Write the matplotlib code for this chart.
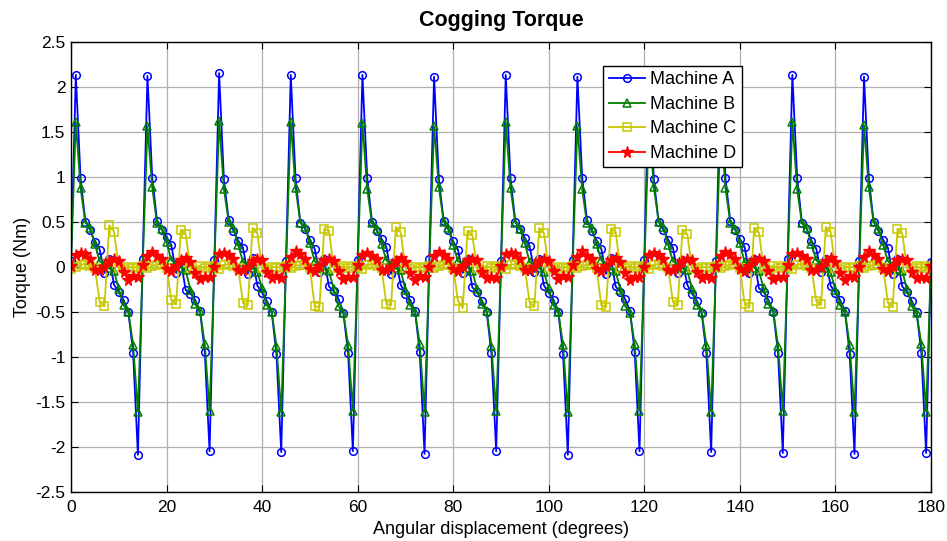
import matplotlib
matplotlib.use("Agg")
import matplotlib.pyplot as plt
from matplotlib.ticker import FuncFormatter

# Rotor angle in degrees, one sample per degree
angle = list(range(0, 181))

# Cogging torque (Nm), one row per 15-degree slot pitch
torque_a = [
    0.06, 2.13, 0.98, 0.50, 0.41, 0.27, 0.19, -0.07, 0.09, -0.20, -0.28, -0.37, -0.50, -0.96, -2.09,
    0.08, 2.12, 0.99, 0.51, 0.41, 0.33, 0.24, -0.07, 0.06, -0.26, -0.30, -0.37, -0.49, -0.95, -2.05,
    0.07, 2.15, 0.97, 0.52, 0.40, 0.29, 0.21, -0.08, 0.10, -0.21, -0.29, -0.38, -0.50, -0.97, -2.06,
    0.06, 2.13, 0.98, 0.49, 0.42, 0.30, 0.20, -0.06, 0.08, -0.22, -0.27, -0.36, -0.51, -0.96, -2.05,
    0.07, 2.13, 0.99, 0.50, 0.40, 0.31, 0.22, -0.08, 0.07, -0.20, -0.30, -0.37, -0.49, -0.95, -2.08,
    0.08, 2.11, 0.97, 0.51, 0.41, 0.28, 0.19, -0.07, 0.09, -0.23, -0.28, -0.38, -0.50, -0.96, -2.05,
    0.06, 2.13, 0.98, 0.50, 0.42, 0.32, 0.23, -0.06, 0.08, -0.21, -0.29, -0.37, -0.50, -0.97, -2.09,
    0.07, 2.11, 0.99, 0.52, 0.40, 0.29, 0.20, -0.08, 0.10, -0.22, -0.28, -0.36, -0.49, -0.95, -2.05,
    0.07, 2.13, 0.97, 0.50, 0.41, 0.30, 0.21, -0.07, 0.07, -0.20, -0.30, -0.38, -0.51, -0.96, -2.06,
    0.06, 2.12, 0.98, 0.51, 0.41, 0.31, 0.22, -0.07, 0.09, -0.24, -0.28, -0.37, -0.50, -0.96, -2.07,
    0.08, 2.13, 0.99, 0.49, 0.42, 0.29, 0.20, -0.06, 0.08, -0.21, -0.29, -0.37, -0.49, -0.97, -2.08,
    0.06, 2.11, 0.98, 0.50, 0.40, 0.30, 0.21, -0.08, 0.09, -0.22, -0.28, -0.38, -0.50, -0.96, -2.07,
    0.05,
]

torque_b = [
    0.02, 1.61, 0.87, 0.49, 0.43, 0.25, 0.06, 0.02, -0.02, -0.05, -0.25, -0.43, -0.50, -0.87, -1.61,
    0.01, 1.56, 0.88, 0.48, 0.42, 0.27, 0.07, 0.03, -0.01, -0.04, -0.26, -0.42, -0.49, -0.86, -1.60,
    0.02, 1.62, 0.86, 0.50, 0.43, 0.24, 0.05, 0.02, -0.02, -0.06, -0.24, -0.43, -0.50, -0.88, -1.62,
    0.01, 1.61, 0.87, 0.49, 0.44, 0.26, 0.06, 0.01, -0.03, -0.05, -0.25, -0.44, -0.51, -0.87, -1.60,
    0.02, 1.60, 0.86, 0.48, 0.42, 0.25, 0.07, 0.02, -0.02, -0.04, -0.26, -0.43, -0.50, -0.86, -1.61,
    0.01, 1.56, 0.88, 0.50, 0.43, 0.24, 0.06, 0.03, -0.01, -0.05, -0.25, -0.42, -0.49, -0.88, -1.60,
    0.02, 1.61, 0.87, 0.49, 0.42, 0.26, 0.05, 0.02, -0.02, -0.06, -0.24, -0.43, -0.50, -0.87, -1.62,
    0.01, 1.56, 0.86, 0.48, 0.43, 0.25, 0.07, 0.01, -0.03, -0.05, -0.26, -0.44, -0.51, -0.86, -1.60,
    0.02, 1.61, 0.88, 0.50, 0.44, 0.24, 0.06, 0.02, -0.02, -0.04, -0.25, -0.43, -0.50, -0.87, -1.61,
    0.01, 1.60, 0.87, 0.49, 0.42, 0.26, 0.05, 0.03, -0.01, -0.05, -0.24, -0.42, -0.49, -0.88, -1.60,
    0.02, 1.61, 0.86, 0.48, 0.43, 0.25, 0.07, 0.02, -0.02, -0.06, -0.26, -0.43, -0.50, -0.87, -1.62,
    0.01, 1.57, 0.88, 0.50, 0.42, 0.24, 0.06, 0.01, -0.03, -0.05, -0.25, -0.44, -0.51, -0.86, -1.61,
    0.03,
]

torque_c = [
    -0.03, 0.00, 0.02, 0.03, 0.01, -0.02, -0.39, -0.44, 0.46, 0.39, -0.02, -0.03, 0.00, -0.01, 0.00,
    0.01, -0.02, 0.01, 0.02, 0.03, -0.01, -0.37, -0.42, 0.41, 0.36, -0.01, -0.04, 0.01, -0.02, 0.01,
    0.00, -0.03, 0.02, 0.03, 0.01, -0.02, -0.40, -0.43, 0.43, 0.37, -0.02, -0.03, 0.00, -0.01, 0.00,
    0.01, -0.02, 0.01, 0.02, 0.02, -0.01, -0.44, -0.45, 0.42, 0.40, -0.02, -0.02, 0.01, -0.02, 0.01,
    0.00, -0.03, 0.02, 0.03, 0.01, -0.02, -0.41, -0.43, 0.44, 0.38, -0.01, -0.03, 0.00, -0.01, 0.00,
    0.01, -0.02, 0.01, 0.02, 0.03, -0.01, -0.38, -0.46, 0.40, 0.35, -0.02, -0.04, 0.01, -0.02, 0.01,
    0.00, -0.03, 0.02, 0.03, 0.01, -0.02, -0.40, -0.44, 0.43, 0.37, -0.02, -0.03, 0.00, -0.01, 0.00,
    0.01, -0.02, 0.01, 0.02, 0.02, -0.01, -0.43, -0.45, 0.42, 0.39, -0.01, -0.02, 0.01, -0.02, 0.01,
    0.00, -0.03, 0.02, 0.03, 0.01, -0.02, -0.39, -0.43, 0.41, 0.36, -0.02, -0.03, 0.00, -0.01, 0.00,
    0.01, -0.02, 0.01, 0.02, 0.03, -0.01, -0.41, -0.45, 0.43, 0.38, -0.02, -0.04, 0.01, -0.02, 0.01,
    0.00, -0.03, 0.02, 0.03, 0.01, -0.02, -0.38, -0.42, 0.44, 0.39, -0.01, -0.03, 0.00, -0.01, 0.00,
    0.01, -0.02, 0.01, 0.02, 0.02, -0.01, -0.40, -0.45, 0.42, 0.37, -0.02, -0.02, 0.01, -0.02, 0.01,
    0.00,
]

torque_d = [
    0.01, 0.13, 0.15, 0.14, 0.09, -0.04, -0.04, 0.00, 0.06, 0.09, 0.06, -0.06, -0.15, -0.10, -0.12,
    0.02, 0.12, 0.16, 0.12, 0.08, -0.03, -0.05, 0.01, 0.07, 0.10, 0.05, -0.07, -0.14, -0.11, -0.12,
    0.00, 0.14, 0.15, 0.13, 0.09, -0.04, -0.04, 0.00, 0.06, 0.08, 0.07, -0.06, -0.13, -0.10, -0.13,
    0.01, 0.11, 0.17, 0.14, 0.08, -0.03, -0.05, 0.01, 0.07, 0.09, 0.06, -0.05, -0.14, -0.12, -0.11,
    0.02, 0.13, 0.15, 0.12, 0.09, -0.04, -0.04, 0.00, 0.06, 0.10, 0.05, -0.07, -0.15, -0.10, -0.12,
    0.00, 0.12, 0.16, 0.13, 0.08, -0.03, -0.05, 0.01, 0.07, 0.08, 0.07, -0.06, -0.13, -0.11, -0.13,
    0.01, 0.14, 0.15, 0.14, 0.09, -0.04, -0.04, 0.00, 0.06, 0.09, 0.06, -0.05, -0.14, -0.10, -0.11,
    0.02, 0.11, 0.17, 0.12, 0.08, -0.03, -0.05, 0.01, 0.07, 0.10, 0.05, -0.07, -0.15, -0.12, -0.12,
    0.00, 0.13, 0.15, 0.13, 0.09, -0.04, -0.04, 0.00, 0.06, 0.08, 0.07, -0.06, -0.13, -0.10, -0.13,
    0.01, 0.12, 0.16, 0.14, 0.08, -0.03, -0.05, 0.01, 0.07, 0.09, 0.06, -0.05, -0.14, -0.11, -0.11,
    0.02, 0.14, 0.15, 0.12, 0.09, -0.04, -0.04, 0.00, 0.06, 0.10, 0.05, -0.07, -0.15, -0.10, -0.12,
    0.00, 0.11, 0.17, 0.13, 0.08, -0.03, -0.05, 0.01, 0.07, 0.08, 0.07, -0.06, -0.13, -0.12, -0.13,
    0.01,
]

labels = ["Machine A", "Machine B", "Machine C", "Machine D"]
x_ticks = list(range(0, 181, 20))
y_ticks = [-2.5, -2, -1.5, -1, -0.5, 0, 0.5, 1, 1.5, 2, 2.5]

plt.rcParams["font.family"] = ["Liberation Sans", "DejaVu Sans"]

fig = plt.figure(figsize=(9.47, 5.41), dpi=100)
ax = fig.add_axes([0.075, 0.0911, 0.908, 0.832])

ax.plot(angle, torque_a, color="#0000ff", lw=1.3, marker="o", ms=5.5,
        mfc="none", mew=1.1, label=labels[0])
ax.plot(angle, torque_b, color="#007f00", lw=1.3, marker="^", ms=6,
        mfc="none", mew=1.1, label=labels[1])
ax.plot(angle, torque_c, color="#c8c800", lw=1.3, marker="s", ms=5.5,
        mfc="none", mew=1.1, label=labels[2])
ax.plot(angle, torque_d, color="#ff0000", lw=1.3, marker="*", ms=8.5,
        mec="#ff0000", mfc="#ff0000", label=labels[3])

ax.set_xlim(0, 180)
ax.set_ylim(-2.5, 2.5)
ax.set_xticks(x_ticks)
ax.set_yticks(y_ticks)
ax.yaxis.set_major_formatter(FuncFormatter(lambda v, p: f"{v:g}"))
ax.tick_params(direction="in", length=5, width=0.8, top=True, right=True,
               labelsize=12.5)
ax.tick_params(axis="x", pad=6)
ax.tick_params(axis="y", pad=4)
ax.grid(True, color="#b0b0b0", lw=0.9)
ax.set_axisbelow(True)
for s in ax.spines.values():
    s.set_linewidth(1.0)
    s.set_color("black")

ax.set_title("Cogging Torque", fontsize=15.5, fontweight="bold", pad=11)
ax.set_xlabel("Angular displacement (degrees)", fontsize=13, labelpad=4)
ax.set_ylabel("Torque (Nm)", fontsize=13, labelpad=3)

leg = ax.legend(loc="upper left", bbox_to_anchor=(0.619, 0.946), borderaxespad=0,
                fontsize=13, frameon=True, fancybox=False, framealpha=1,
                edgecolor="black", handlelength=2.0, handletextpad=0.3,
                labelspacing=0.42, borderpad=0.3)
leg.get_frame().set_linewidth(1.0)

fig.savefig("out.png", dpi=100)
